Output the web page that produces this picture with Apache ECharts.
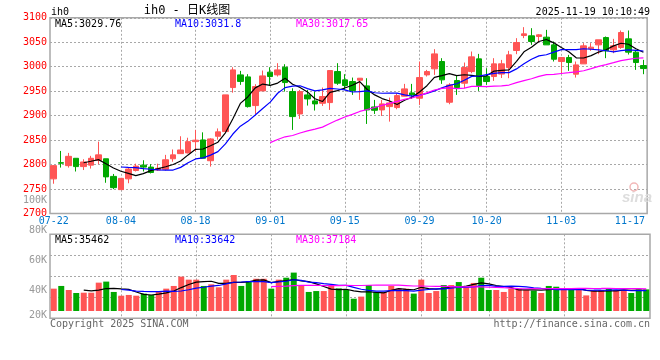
<!DOCTYPE html>
<html><head><meta charset="utf-8">
<script src="https://cdn.jsdelivr.net/npm/echarts@6/dist/echarts.min.js"></script>
<style>html,body{margin:0;padding:0;background:#fff}#c{width:660px;height:360px}</style>
</head><body><div id="c"></div>
<script>
// ---- data ----
const dates = ['07-22','07-23','07-24','07-25','07-28','07-29','07-30','07-31',
'08-01','08-04','08-05','08-06','08-07','08-08','08-11','08-12','08-13','08-14','08-15',
'08-18','08-19','08-20','08-21','08-22','08-25','08-26','08-27','08-28','08-29',
'09-01','09-02','09-03','09-04','09-05','09-08','09-09','09-10','09-11','09-12',
'09-15','09-16','09-17','09-18','09-19','09-22','09-23','09-24','09-25','09-26','09-29','09-30',
'10-09','10-10','10-13','10-14','10-15','10-16','10-17','10-20','10-21','10-22','10-23','10-24',
'10-27','10-28','10-29','10-30','10-31','11-03','11-04','11-05','11-06','11-07',
'11-10','11-11','11-12','11-13','11-14','11-17','11-18'];
const opens = [2771,2804,2798,2813,2796,2799,2809,2812,2776,2749,
2771,2788,2799,2795,2789,2790.5,2812,2822.5,2824,2847,
2850.5,2808,2858,2867.5,2957.5,2983.4,2979.3,2920.7,2950.7,2989,
2983.4,2999,2949.3,2903.6,2942.5,2930.2,2925.4,2926.8,2990.2,2973.2,
2969.8,2972.5,2960.9,2917.9,2911.8,2918.6,2916.6,2939.8,2946.6,2935.7,
2983.4,2995.7,3010.7,2927.5,2971.8,2966.4,2990.2,3016.1,2980,2980,
2985,2998.4,3033.2,3063.8,3063.2,3061.8,3060.4,3044.7,3010.7,3018.8,
2984.8,3005.9,3036.6,3044.7,3059.7,3034.5,3039.3,3057,3029.8,3002.5];
const closes = [2798,2803,2817,2796,2805.5,2813,2820,2775,2753,2772,
2791,2797,2795,2784,2792.5,2810,2820,2830,2847,2850,
2813,2852.5,2867,2942.5,2993.6,2970,2918.6,2959.5,2981.3,2980,
2993.6,2967.7,2898.2,2949.3,2934.3,2924.1,2939.1,2992.3,2966.4,2961.6,
2951.4,2976.6,2911.8,2911.1,2924.1,2926.1,2941.1,2954.8,2942.5,2977.9,
2990.2,3026.3,2973.2,2962.9,2957.5,2998.4,3020.2,2961.6,2969.8,3005.9,
3006,3024.3,3049.5,3067.2,3051.6,3065.2,3044.7,3015.4,3018.8,3008.6,
3003.8,3042.7,3040,3055,3032.5,3042.7,3070,3029.8,3008.6,2996.3];
const lows = [2761,2794,2794,2786,2789,2792,2801,2763,2750,2749,
2762,2786,2786,2782,2787,2788,2806,2822,2823,2827,
2813,2796,2851,2867.5,2947,2963,2916.6,2903.6,2950.7,2961,
2980,2949.3,2871,2893.4,2920.7,2910.5,2920,2911.8,2963,2952.7,
2942.5,2932.3,2883.2,2903.6,2899.5,2887.9,2913.2,2939.8,2934.3,2922,
2980,2983.4,2965,2923.4,2942.5,2956.1,2986.8,2950.7,2963,2971.1,
2977,2976.6,3025.7,3058.4,3044.7,3050.2,3044.7,3010.7,2986.8,2991.6,
2977.9,3005.9,3032.5,3025.7,3017.5,3027.7,3036.6,3025,2993.6,2984.8];
const highs = [2799,2828,2824,2813,2811,2818,2847,2812,2781,2772,
2795,2802,2809,2801,2802,2820,2831,2858,2855,2871,
2866,2854,2874,2942.5,2999,2991.6,2984.8,2964.3,2992.3,2999,
3007.3,3005.2,2956,2952.7,2952.7,2949.3,2957.5,2992.3,3007.3,2984.8,
2977.9,2977,2976.6,2932.3,2932.3,2937,2945.9,2965,2965,3010.7,
2993.6,3035.9,3017.5,2966.4,2981.3,3008.6,3031.1,3026.3,2997,3017.5,
3014,3032.5,3058.4,3080.9,3078.8,3066.6,3075.4,3051.6,3020,3024.3,
3010.7,3048.2,3048.2,3055,3061.8,3057,3074.1,3074.1,3034.5,3014.1];
const volumes = [34900,36700,34000,32000,32200,32200,38900,39600,32700,30200,
30700,30200,31600,30700,32900,34900,36700,42900,40900,40900,
36700,37800,35800,40900,44000,36700,40000,41500,41500,34900,
40900,42200,45600,36700,32700,33300,33300,36700,35100,34000,
28200,29600,37300,32700,32700,36700,34900,34900,31600,40900,
32000,33300,37300,37300,39300,36000,38700,42200,34000,34000,
32700,34900,34900,34000,33600,32000,36700,36200,34000,34000,
34000,30400,33600,34000,34900,34000,34000,32000,34400,34400];
const xLabelIdx = [0,9,19,29,39,49,58,68,78];
const xGridIdx = [9,19,29,39,49,58,68];
const priceLegend = ['MA5:3029.76','MA10:3031.8','MA30:3017.65'];
const volLegend = ['MA5:35462','MA10:33642','MA30:37184'];
const headerTexts = ['ih0','ih0 - 日K线图','2025-11-19 10:10:49'];
const footerTexts = ['Copyright 2025 SINA.COM','http://finance.sina.com.cn'];

// ---- chart ----
const FONT = 'DejaVu Sans Mono';
const UP = '#ff5555', DOWN = '#00a800';
const GRIDC = '#a8a8a8';
function ma(arr, n) {
  return arr.map((v, i) => {
    if (i < n - 1) return '-';
    let s = 0; for (let k = i - n + 1; k <= i; k++) s += arr[k];
    return +(s / n).toFixed(2);
  });
}
const candleData = dates.map((d, i) => [opens[i], closes[i], lows[i], highs[i]]);
const volData = volumes.map((v, i) => ({ value: v, itemStyle: { color: closes[i] >= opens[i] ? UP : DOWN } }));
const vSplit = { show: true, alignWithLabel: true, interval: (i) => xGridIdx.includes(i), lineStyle: { color: GRIDC, type: [2, 2], width: 1 } };
const hSplit = { show: true, lineStyle: { color: GRIDC, type: [2, 2], width: 1 } };
function lineS(name, data, color, xi, yi) {
  return { name, type: 'line', data, xAxisIndex: xi, yAxisIndex: yi, showSymbol: false, symbol: 'none',
    lineStyle: { color, width: 1.2 }, itemStyle: { color }, silent: true, z: 4 };
}
const chart = echarts.init(document.getElementById('c'), null, { renderer: 'canvas', width: 660, height: 360 });
const txt = (text, x, y, fill, size, align, extra) => ({ type: 'text', silent: true, z: 50,
  style: Object.assign({ text, x, y, fill, font: (size || 10) + 'px "' + FONT + '", "Noto Sans CJK SC"', textAlign: align || 'left', textVerticalAlign: 'middle' }, extra || {}) });
chart.setOption({
  animation: false,
  backgroundColor: '#ffffff',
  textStyle: { fontFamily: FONT },
  grid: [
    { left: 50, top: 17.8, width: 600, height: 195.8, show: true, borderColor: GRIDC, borderWidth: 1.5, backgroundColor: 'transparent' },
    { left: 50, top: 234.3, width: 600, height: 76.7 },
    { left: 50, top: 234.3, width: 600, height: 84, show: true, borderColor: GRIDC, borderWidth: 1.5 },
    { left: 48, top: 200, width: 2, height: 120.8 }
  ],
  xAxis: [
    { type: 'category', gridIndex: 0, data: dates, boundaryGap: true, axisLine: { show: false }, axisTick: { show: false },
      axisLabel: { interval: (i) => xLabelIdx.includes(i), color: '#0077cc', fontSize: 10, margin: 3, fontFamily: FONT,
        formatter: (v, i) => (i === dates.length - 2 ? v + '  ' : v) },
      splitLine: vSplit },
    { type: 'category', gridIndex: 1, data: dates, boundaryGap: true, show: false },
    { type: 'category', gridIndex: 2, data: dates, boundaryGap: true, axisLine: { show: false }, axisTick: { show: false },
      axisLabel: { show: false }, splitLine: vSplit },
    { type: 'value', gridIndex: 3, min: 0, max: 1, show: false }
  ],
  yAxis: [
    { type: 'value', gridIndex: 0, min: 2700, max: 3100, interval: 50, axisLine: { show: false }, axisTick: { show: false },
      axisLabel: { color: '#ff0000', fontSize: 10, margin: 3, fontFamily: FONT, formatter: (v) => String(v) }, splitLine: hSplit },
    { type: 'value', gridIndex: 1, min: 20000, max: 71133, show: false, splitLine: { show: false } },
    { type: 'value', gridIndex: 2, min: 0, max: 4, interval: 1, axisLine: { show: false }, axisTick: { show: false },
      axisLabel: { show: false }, splitLine: hSplit },
    { type: 'value', gridIndex: 3, min: 20000, max: 100000, interval: 20000, position: 'left', axisLine: { show: false },
      axisTick: { show: false }, splitLine: { show: false },
      axisLabel: { color: '#999999', fontSize: 10, margin: 1, fontFamily: FONT, verticalAlignMinLabel: 'bottom',
        formatter: (v) => (v / 1000) + 'K' } }
  ],
  series: [
    { name: 'K', type: 'candlestick', xAxisIndex: 0, yAxisIndex: 0, data: candleData, barWidth: 6, silent: true, z: 3,
      itemStyle: { color: UP, color0: DOWN, borderColor: UP, borderColor0: DOWN, borderColorDoji: DOWN, borderWidth: 1 } },
    lineS('MA5', ma(closes, 5), '#000000', 0, 0),
    lineS('MA10', ma(closes, 10), '#0000ff', 0, 0),
    lineS('MA30', ma(closes, 30), '#ff00ff', 0, 0),
    { name: 'VOL', type: 'bar', xAxisIndex: 1, yAxisIndex: 1, data: volData, barWidth: 6, clip: true, silent: true, z: 3 },
    lineS('VMA5', ma(volumes, 5), '#000000', 1, 1),
    lineS('VMA10', ma(volumes, 10), '#0000ff', 1, 1),
    lineS('VMA30', ma(volumes, 30), '#ff00ff', 1, 1)
  ],
  graphic: [
    txt(headerTexts[0], 51, 12, '#000', 10),
    txt(headerTexts[1], 187, 11, '#000', 12, 'center'),
    txt(headerTexts[2], 650, 12, '#000', 10, 'right'),
    txt(priceLegend[0], 55, 24, '#000', 10),
    txt(priceLegend[1], 175, 24, '#0000ff', 10),
    txt(priceLegend[2], 296, 24, '#ff00ff', 10),
    txt(volLegend[0], 55, 240, '#000', 10),
    txt(volLegend[1], 175, 240, '#0000ff', 10),
    txt(volLegend[2], 296, 240, '#ff00ff', 10),
    txt(footerTexts[0], 50, 324, '#666', 10),
    txt(footerTexts[1], 650, 324, '#666', 10, 'right'),
    { type: 'text', silent: true, z: 1, style: { text: 'sina', x: 637, y: 198, fill: '#dddddd', textAlign: 'center', textVerticalAlign: 'middle',
      font: 'italic bold 15px "Liberation Sans"' } },
    { type: 'circle', silent: true, z: 1, shape: { cx: 634, cy: 187, r: 4 }, style: { fill: 'none', stroke: '#f2b8b8', lineWidth: 1.5 } }
  ]
});
</script></body></html>
